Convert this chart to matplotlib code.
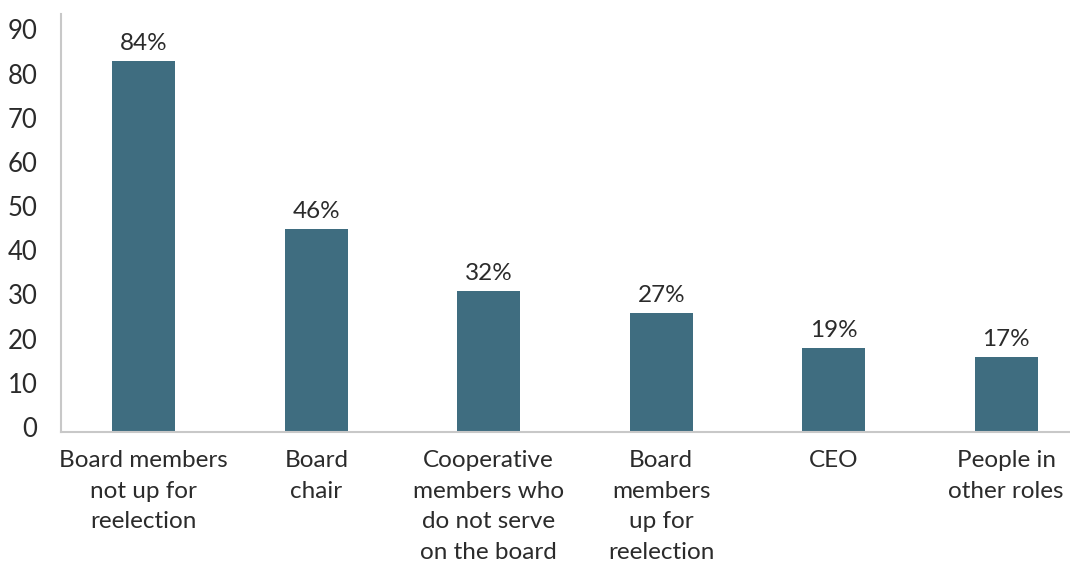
import matplotlib.pyplot as plt
import matplotlib.transforms as mtransforms

categories = ["Board members\nnot up for\nreelection", "Board\nchair",
              "Cooperative\nmembers who\ndo not serve\non the board",
              "Board\nmembers\nup for\nreelection", "CEO", "People in\nother roles"]
values = [84, 46, 32, 27, 19, 17]
labels = ["84%", "46%", "32%", "27%", "19%", "17%"]
yticks = [0, 10, 20, 30, 40, 50, 60, 70, 80, 90]

bar_color = "#3f6d80"
text_color = "#2b2b2b"

plt.rcParams['font.family'] = ['Lato', 'DejaVu Sans']

fig = plt.figure(figsize=(10.7, 5.64), dpi=100)
ax = fig.add_axes([61/1070, 1 - 432/564, 1 - 61/1070, (432 - 14)/564])

x = range(len(values))
bars = ax.bar(x, values, width=0.365, color=bar_color, zorder=2)
for b, lab in zip(bars, labels):
    ax.annotate(lab, (b.get_x() + b.get_width()/2, b.get_height()),
                xytext=(0, 5), textcoords="offset points",
                ha="center", va="bottom", fontsize=17.5, color=text_color)

ax.set_xlim(-0.48, 5.37)
ax.set_ylim(0, 94.6)
ax.set_yticks(yticks)
ax.set_xticks(list(x))
ax.set_xticklabels(categories, fontsize=17.5, color=text_color, linespacing=1.56, va="top")
ax.tick_params(axis="y", labelsize=18.5, labelcolor=text_color, length=0, pad=17)
ax.tick_params(axis="x", length=0, pad=13)

# nudge the y labels up a touch
shift = mtransforms.ScaledTranslation(0, 5/100, fig.dpi_scale_trans)
for t in ax.get_yticklabels():
    t.set_transform(t.get_transform() + shift)

for s in ["top", "right"]:
    ax.spines[s].set_visible(False)
for s in ["left", "bottom"]:
    ax.spines[s].set_color("#c8c8c8")
    ax.spines[s].set_linewidth(1.5)

fig.savefig("out.png", dpi=100)
